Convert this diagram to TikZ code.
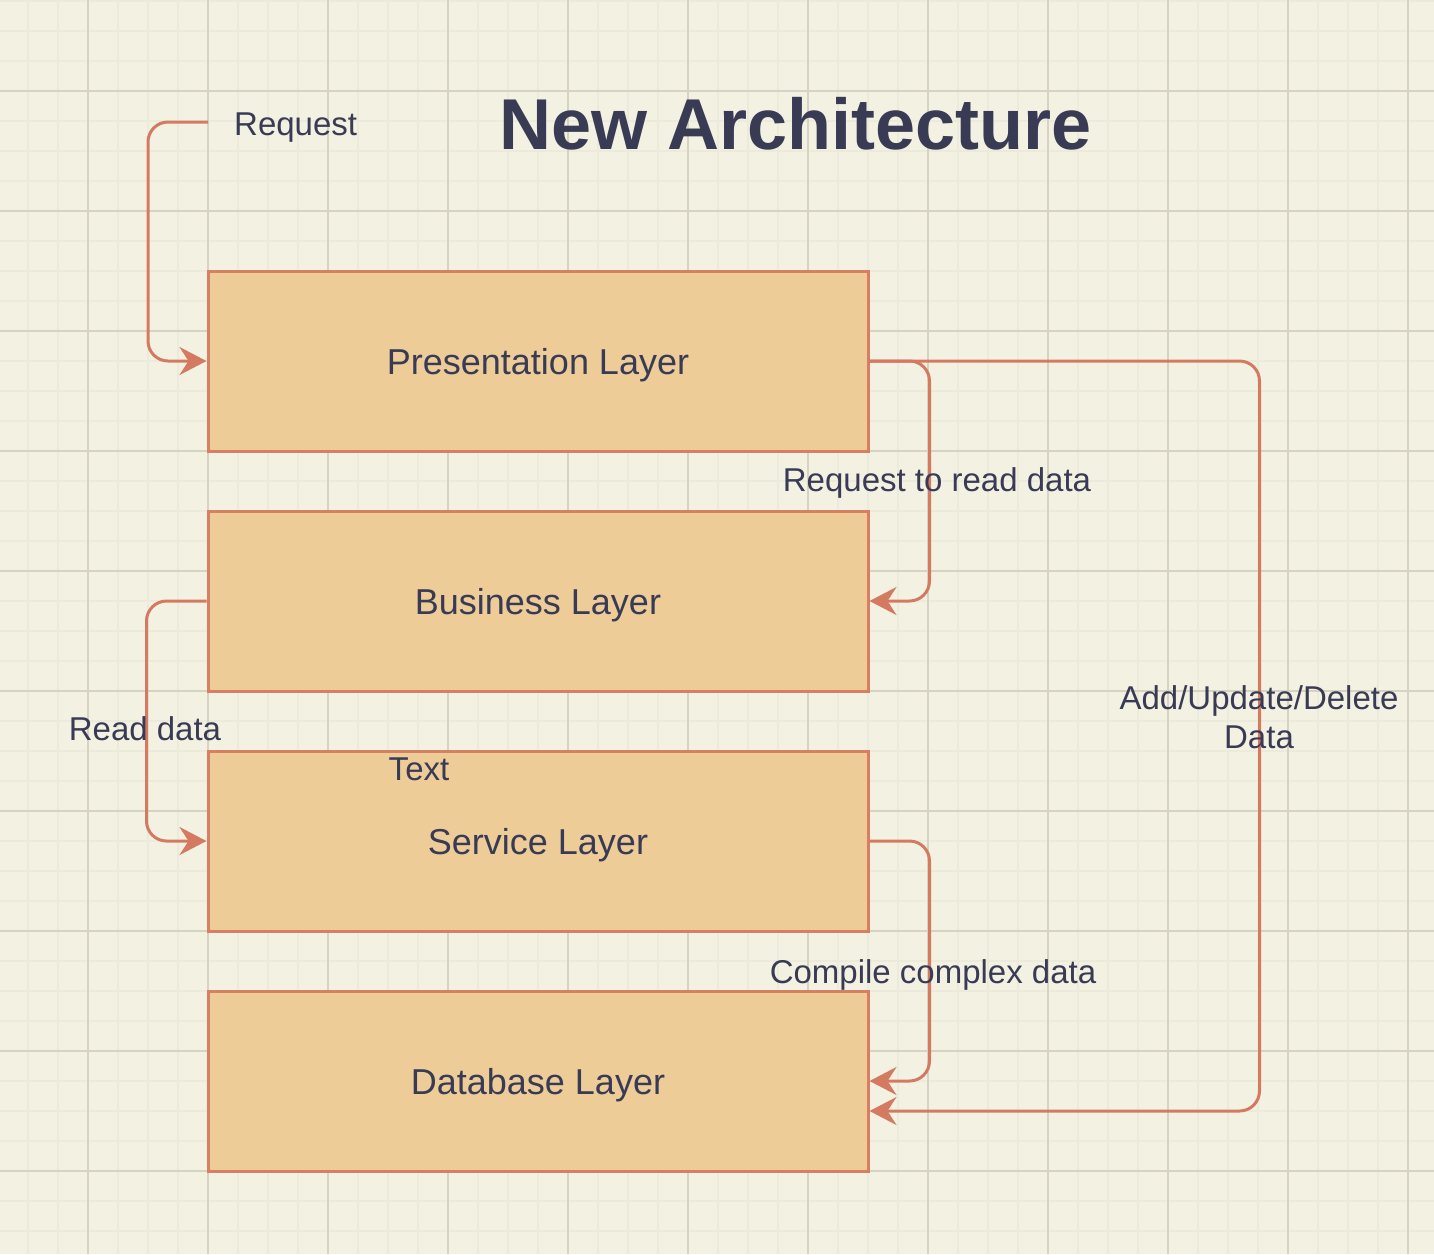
\documentclass[tikz,border=0pt]{standalone}
\usepackage{fontspec}
\setmainfont{Liberation Sans}
\usetikzlibrary{arrows.meta,calc}
\definecolor{bg}{HTML}{F3F1E2}
\definecolor{gridminor}{HTML}{ECEADA}
\definecolor{gridmajor}{HTML}{D6D3C3}
\definecolor{boxfill}{HTML}{EDCC98}
\definecolor{boxline}{HTML}{D67F65}
\definecolor{conncol}{HTML}{D57A62}
\definecolor{txt}{HTML}{393B54}
\tikzset{
  minorline/.style={gridminor,line width=2pt},
  majorline/.style={gridmajor,line width=1.5pt},
  layer/.style={draw=boxline,fill=boxfill,line width=3pt,minimum width=660pt,minimum height=180pt,inner sep=0pt,text depth=0pt,text=txt,font=\fontsize{36}{43}\selectfont},
  conn/.style={conncol,line width=3pt,rounded corners=20pt,-{Stealth[length=27pt,width=28pt,inset=9pt]}},
  lbl/.style={text=txt,font=\fontsize{33}{39}\selectfont,inner sep=0pt,text depth=0pt,align=center},
}
\begin{document}
\begin{tikzpicture}[x=1pt,y=-1pt]
\fill[bg] (0,0) rectangle (1434,1254);
\useasboundingbox (0,0) rectangle (1434,1254);
\foreach \x in {28,58,...,1434} \draw[minorline] (\x,0) -- (\x,1254);
\foreach \y in {1,31,...,1254} \draw[minorline] (0,\y) -- (1434,\y);
\foreach \x in {88,208,...,1434} \draw[majorline] (\x,0) -- (\x,1254);
\foreach \y in {91,211,...,1254} \draw[majorline] (0,\y) -- (1434,\y);

\node[layer] (pres) at (538,361) {Presentation Layer};
\node[layer] (bus) at (538,601) {Business Layer};
\node[layer] (serv) at (538,841) {Service Layer};
\node[layer] (db) at (538,1081) {Database Layer};

\node[text=txt,font=\fontsize{72}{80}\selectfont\bfseries,inner sep=0pt,text depth=0pt] (title) at (796,123) {New Architecture};

\coordinate (reqstart) at (208,122);
\draw[conn] (reqstart) -- ++(-60,0) |- (pres.west);
\draw[conn] (pres.east) -- ++(60,0) |- (bus.east);
\draw[conn] (pres.east) -- ++(390,0) |- ($(db.east)+(0,30)$);
\draw[conn] (bus.west) -- ++(-60,0) |- (serv.west);
\draw[conn] (serv.east) -- ++(60,0) |- (db.east);

\node[lbl,anchor=west] (lreq) at (234,124) {Request};
\node[lbl] (lread) at (937,480) {Request to read data};
\node[lbl] (laud) at (1259,717) {Add/Update/Delete\\Data};
\node[lbl] (lrd) at (145,729) {Read data};
\node[lbl] (lcomp) at (933,972) {Compile complex data};
\node[lbl] (ltext) at (419,769) {Text};
\end{tikzpicture}
\end{document}
